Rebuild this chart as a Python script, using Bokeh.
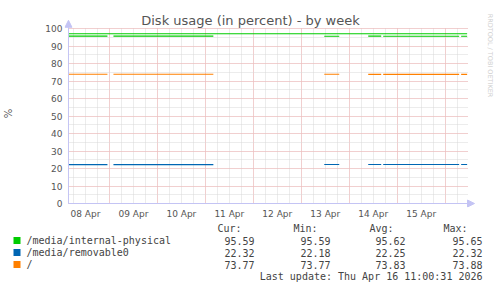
import numpy as np
import pandas as pd
from math import pi
from bokeh.plotting import figure
from bokeh.layouts import column
from bokeh.models import (Range1d, FixedTicker, DatetimeTickFormatter, Label, Arrow, NormalHead)
from bokeh.embed import file_html
from bokeh.resources import INLINE

# ---------------- data ----------------
series_names = ["/media/internal-physical", "/media/removable0", "/"]
series_colors = ["#00cc00", "#0066b3", "#ff8000"]

# measured segments (gaps = no data)
seg_starts = ["2026-04-08 03:30", "2026-04-09 02:00", "2026-04-13 11:30",
              "2026-04-14 09:30", "2026-04-14 17:00", "2026-04-16 08:00"]
seg_ends = ["2026-04-08 23:00", "2026-04-11 04:00", "2026-04-13 19:00",
            "2026-04-14 16:00", "2026-04-16 07:00", "2026-04-16 11:00"]
internal_physical = [95.62, 95.63, 95.61, 95.62, 95.60, 95.59]
removable0 = [22.20, 22.24, 22.27, 22.30, 22.32, 22.32]
root = [73.86, 73.85, 73.82, 73.80, 73.78, 73.77]
threshold_internal = 97

cur_vals = ["95.59", "22.32", "73.77"]
min_vals = ["95.59", "22.18", "73.77"]
avg_vals = ["95.62", "22.25", "73.83"]
max_vals = ["95.65", "22.32", "73.88"]
col_headers = ["Cur:", "Min:", "Avg:", "Max:"]
last_update = "Last update: Thu Apr 16 11:00:31 2026"
title_text = "Disk usage (in percent) - by week"
y_label = "%"
watermark = "RRDTOOL / TOBI OETIKER"

day_labels = ["2026-04-08 12:00", "2026-04-09 12:00", "2026-04-10 12:00", "2026-04-11 12:00",
              "2026-04-12 12:00", "2026-04-13 12:00", "2026-04-14 12:00", "2026-04-15 12:00"]
y_ticks = [0, 10, 20, 30, 40, 50, 60, 70, 80, 90, 100]
y_minor = [0, 5, 10, 15, 20, 25, 30, 35, 40, 45, 50, 55, 60, 65, 70, 75, 80, 85, 90, 95, 100]

range_start = "2026-04-08 03:30"
range_end = "2026-04-16 11:00"


def ms(s):
    return pd.Timestamp(s).value / 1e6


HOUR = 3600 * 1000.0
t0, t1 = ms(range_start), ms(range_end)

# ---------------- layout ----------------
W, H = 497, 288
H1 = 222                 # main figure height; legend figure below
X0, Y0, Y100 = 66, 203, 28   # canvas px of t0, value 0, value 100
PXH = 2.0075             # px per hour
PXU = (Y0 - Y100) / 100.0    # px per percent
FL, FB = 62, 207             # frame left / bottom (canvas px); frame top 0, right W
LAV = "#c4c4f4"
GREY = "#555555"
TXT = "#444444"

xr = Range1d(t0 - (X0 - FL) / PXH * HOUR, t0 + (W - X0) / PXH * HOUR)
yr = Range1d(-(FB - Y0) / PXU, Y0 / PXU)

p = figure(width=W, height=H1, output_backend="svg", toolbar_location=None,
           x_axis_type="datetime", x_range=xr, y_range=yr,
           min_border_left=FL, min_border_right=0, min_border_top=0,
           min_border_bottom=H1 - FB)
p.outline_line_color = None
p.background_fill_color = "white"
p.border_fill_color = "white"

# grids
midnights = [ms(f"2026-04-{d:02d} 00:00") for d in range(9, 17)]
six_hours = [t for t in (ms("2026-04-08 00:00") + k * 6 * HOUR for k in range(0, 37)) if t0 < t < t1]
p.xgrid.ticker = FixedTicker(ticks=midnights, minor_ticks=six_hours)
p.ygrid.ticker = FixedTicker(ticks=y_ticks, minor_ticks=y_minor)
try:
    p.xgrid.cross_bounds = (0, 100)
    p.ygrid.cross_bounds = (t0, t1)
except Exception:
    pass
for g in (p.xgrid, p.ygrid):
    g.grid_line_color = "#f6b2b2"
    g.grid_line_dash = "1 1"
    g.grid_line_width = 1
    g.minor_grid_line_color = "#d8d8d8"
    g.minor_grid_line_dash = "1 1"
    g.minor_grid_line_width = 1
    g.level = "underlay"

# axes
p.xaxis.ticker = FixedTicker(ticks=[ms(s) for s in day_labels])
fmt = "%d %b"
p.xaxis.formatter = DatetimeTickFormatter(microseconds=fmt, milliseconds=fmt, seconds=fmt,
                                          minsec=fmt, minutes=fmt, hourmin=fmt, hours=fmt,
                                          days=fmt, months=fmt, years=fmt)
p.yaxis.ticker = FixedTicker(ticks=y_ticks)
for ax in (p.xaxis[0], p.yaxis[0]):
    ax.axis_line_color = None
    ax.major_tick_line_color = None
    ax.minor_tick_line_color = None
    ax.major_tick_out = 0
    ax.major_tick_in = 0
    ax.minor_tick_out = 0
    ax.minor_tick_in = 0
    ax.major_label_text_font = "DejaVu Sans"
    ax.major_label_text_font_size = "9px"
    ax.major_label_text_color = GREY
p.xaxis.major_label_standoff = 1
p.yaxis.major_label_standoff = 2
p.yaxis.bounds = (0, 100)
# the axis label is centred on the frame; trailing no-break spaces move the glyph down
p.yaxis.axis_label = y_label + "\u00a0" * 6
p.yaxis.axis_label_text_font = "DejaVu Sans"
p.yaxis.axis_label_text_font_style = "normal"
p.yaxis.axis_label_text_font_size = "10px"
p.yaxis.axis_label_text_color = GREY
p.yaxis.axis_label_standoff = 28

# threshold rule
p.line([t0, t1], [threshold_internal, threshold_internal], line_color=series_colors[0], line_width=1)

# data lines
for vals, col in zip([internal_physical, removable0, root], series_colors):
    xs, ys = [], []
    for s, e, v in zip(seg_starts, seg_ends, vals):
        xs += [ms(s), ms(e), ms(e)]
        ys += [v, v, np.nan]
    p.line(xs, ys, line_color=col, line_width=1.1)

# axis lines with arrows
p.add_layout(Arrow(end=NormalHead(size=7, fill_color=LAV, line_color=LAV),
                   x_start=t0, y_start=0, x_end=t1 + 3.7 * HOUR, y_end=0,
                   line_color=LAV, line_width=1))
p.add_layout(Arrow(end=NormalHead(size=7, fill_color=LAV, line_color=LAV),
                   x_start=t0, y_start=0, x_end=t0, y_end=104.7,
                   line_color=LAV, line_width=1))


def lab(fig, text, sx, sy, size="10px", font="DejaVu Sans Mono", color=TXT,
        align="left", angle=0.0):
    fig.add_layout(Label(x=sx, y=sy, x_units="screen", y_units="screen",
                         text=text, text_font=font, text_font_size=size,
                         text_color=color, text_align=align, text_baseline="middle",
                         angle=angle))


# title and watermark (canvas px -> frame-relative screen units)
lab(p, title_text, 248 - FL, FB - 19.5, size="13px", font="DejaVu Sans",
    color=GREY, align="center")
lab(p, watermark, 487 - FL, FB - 55, size="6.5px", font="DejaVu Sans",
    color="#d0d0d0", align="center", angle=-pi / 2)

# ---------------- legend figure ----------------
H2 = H - H1
q = figure(width=W, height=H2, output_backend="svg", toolbar_location=None,
           x_range=Range1d(0, W), y_range=Range1d(H2, 0),
           x_axis_location=None, y_axis_location=None,
           min_border_left=0, min_border_right=0, min_border_top=0, min_border_bottom=0)
q.outline_line_color = None
q.xgrid.visible = False
q.ygrid.visible = False
q.background_fill_color = "white"
q.border_fill_color = "white"
for fig in (p, q):
    try:
        fig.frame_align = False
    except Exception:
        pass


def qlab(text, X, Y, align="left"):
    lab(q, text, X, H2 - (Y - H1), align=align)


header_y = 228
row_ys = [240, 252, 264]
for txt, X in zip(col_headers, [217, 293, 369, 443]):
    qlab(txt, X, header_y)
value_right = [254, 330, 405, 482]
q.scatter(x=[16.5] * 3, y=[Y - H1 for Y in row_ys], marker="square", size=7,
          fill_color=series_colors, line_color=None)
for i, name in enumerate(series_names):
    Y = row_ys[i]
    qlab(name, 26, Y)
    for vals, X in zip([cur_vals, min_vals, avg_vals, max_vals], value_right):
        qlab(vals[i], X, Y, align="right")
qlab(last_update, 482, 276, align="right")

layout = column(p, q, spacing=0)
open("out.html", "w").write(file_html(layout, INLINE))
